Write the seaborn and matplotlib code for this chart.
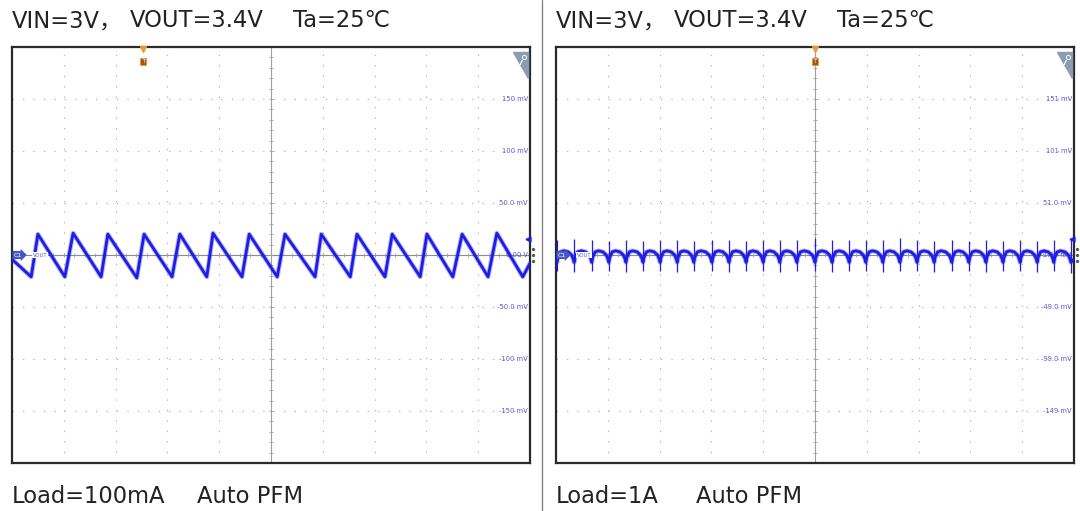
import numpy as np
import pandas as pd
import matplotlib.pyplot as plt
import matplotlib.transforms as mtransforms
from matplotlib.lines import Line2D
import seaborn as sns

# ---- data (x in divisions, y in mV) ----
left_peak_t = [0.50, 1.18, 1.85, 2.55, 3.24, 3.88, 4.58, 5.27, 5.97, 6.66, 7.34, 8.01, 8.69, 9.36]
left_peak_v = [20, 21, 20, 20, 20, 21, 20, 20, 20, 20, 20, 20, 20, 21]
left_trough_t = [0.37, 1.02, 1.72, 2.41, 3.09, 3.76, 4.44, 5.12, 5.85, 6.53, 7.20, 7.88, 8.51, 9.19, 9.86]
left_trough_v = [-21, -21, -21, -22, -21, -21, -21, -21, -21, -21, -21, -21, -21, -21, -21]
left_start = (0.02, -5)
left_end = (10.0, -8)

right_spike_t = [0.02, 0.35, 0.69, 1.02, 1.35, 1.68, 2.01, 2.34, 2.66, 3.01, 3.34, 3.67, 4.00,
                 4.32, 4.65, 5.00, 5.33, 5.66, 5.98, 6.31, 6.64, 6.97, 7.30, 7.64, 7.97, 8.30,
                 8.63, 8.96, 9.29, 9.61, 9.94]
right_spike_hi = [15, 16, 15, 14, 15, 14, 15, 15, 14, 15, 15, 14, 15, 15, 15, 17, 15, 15, 15,
                  15, 17, 15, 14, 15, 14, 15, 14, 15, 14, 15, 16]
right_spike_lo = [-14, -15, -14, -14, -15, -14, -14, -15, -14, -14, -15, -14, -14, -15, -14,
                  -14, -15, -14, -14, -15, -14, -14, -15, -14, -14, -15, -14, -14, -15, -14, -16]
# shape of one switching cycle between two spikes (fraction of period, mV)
cycle_frac = [0.0, 0.06, 0.2, 0.4, 0.65, 0.85, 0.95]
cycle_mv = [-6, -1, 4, 5, 4, 1, -3]

left_ticks = ["150 mV", "100 mV", "50.0 mV", "0.00 V", "-50.0 mV", "-100 mV", "-150 mV"]
left_tick_v = [150, 100, 50, 0, -50, -100, -150]
right_ticks = ["151 mV", "101 mV", "51.0 mV", "1.00 mV", "-49.0 mV", "-99.0 mV", "-149 mV"]
right_tick_v = [151, 101, 51, 1, -49, -99, -149]

# build traces
lt = [left_start[0]]
lv = [left_start[1]]
for i in range(len(left_trough_t)):
    lt.append(left_trough_t[i]); lv.append(left_trough_v[i])
    if i < len(left_peak_t):
        lt.append(left_peak_t[i]); lv.append(left_peak_v[i])
lt.append(left_end[0]); lv.append(left_end[1])
left_df = pd.DataFrame({"t": lt, "v": lv})

rt, rv = [], []
for k in range(len(right_spike_t) - 1):
    t0, t1 = right_spike_t[k], right_spike_t[k + 1]
    for f, m in zip(cycle_frac, cycle_mv):
        rt.append(t0 + f * (t1 - t0)); rv.append(m)
rt.append(right_spike_t[-1]); rv.append(cycle_mv[0])
rt.append(10.0); rv.append(-3)
right_df = pd.DataFrame({"t": rt, "v": rv})

sns.set_style("white")
plt.rcParams['font.family'] = ['DejaVu Sans', 'Noto Sans CJK SC']

W, H = 1080, 511
fig = plt.figure(figsize=(W / 100, H / 100), dpi=100)
trace_c = "#1d1de6"
label_c = "#5a5ad8"


def px(x, y):
    return x / W, 1 - y / H


def scope(ax, df, ylo, yhi, center, ticks, tick_v, trig_x):
    ax.set_xlim(0, 10)
    ax.set_ylim(ylo, yhi)
    ax.set_xticks(range(0, 11))
    ax.set_yticks(np.linspace(ylo, yhi, 9))
    ax.tick_params(length=0, labelbottom=False, labelleft=False)
    ax.grid(True, color="#b5b5b5", linestyle=(0, (1.2, 8.2)), linewidth=0.8)
    for s in ax.spines.values():
        s.set_color("#2a2a2a")
        s.set_linewidth(1.6)
    ax.axhline(center, color="#8c8c8c", lw=0.8, zorder=1)
    ax.axvline(5, color="#a0a0a0", lw=0.8, zorder=1)
    # small ticks on the crosshair
    mx = np.arange(0.2, 10, 0.2)
    ax.plot(mx, np.full_like(mx, center), ls="none", marker="|", ms=2.5, color="#a0a0a0", mew=0.6)
    my = np.arange(ylo + 10, yhi, 10)
    ax.plot(np.full_like(my, 5.0), my, ls="none", marker="_", ms=2.5, color="#a0a0a0", mew=0.6)
    trans = mtransforms.blended_transform_factory(ax.transAxes, ax.transData)
    for lab, v in zip(ticks, tick_v):
        ax.text(0.996, v, lab, transform=trans, ha="right", va="center", fontsize=4.9,
                color=label_c, family="DejaVu Sans", zorder=2)
    sns.lineplot(data=df, x="t", y="v", ax=ax, color=trace_c, linewidth=3.4, alpha=0.35,
                 estimator=None, sort=False, zorder=4)
    sns.lineplot(data=df, x="t", y="v", ax=ax, color=trace_c, linewidth=2.0,
                 estimator=None, sort=False, zorder=5)
    # channel badge + label
    ax.text(0.004, center, "C1", transform=trans, ha="left", va="center", fontsize=4.5,
            color="white", family="DejaVu Sans", zorder=7,
            bbox=dict(boxstyle="rarrow,pad=0.25", fc="#4756c8", ec="none"))
    ax.text(0.04, center, "VOUT", transform=trans, ha="left", va="center", fontsize=3.8,
            color=label_c, family="DejaVu Sans", zorder=7,
            bbox=dict(boxstyle="square,pad=0.1", fc="white", ec="none"))
    # trigger marker at top
    ttr = mtransforms.blended_transform_factory(ax.transData, ax.transAxes)
    ax.plot([trig_x], [0.995], marker="v", ms=4, color="#ee9a35", transform=ttr, clip_on=False, zorder=8)
    ax.text(trig_x, 0.965, "T", transform=ttr, ha="center", va="center", fontsize=3.6,
            color="white", family="DejaVu Sans", zorder=8,
            bbox=dict(boxstyle="square,pad=0.25", fc="#9a5a1c", ec="#ee9a35", lw=0.6))
    # zoom corner triangle with a small magnifier shape
    ax.fill([0.967, 0.996, 0.996], [0.988, 0.988, 0.925], transform=ax.transAxes,
            color="#8d9bb0", zorder=6, clip_on=False)
    ax.plot([0.988], [0.975], marker="o", ms=3, mfc="none", mec="white", mew=0.7,
            transform=ax.transAxes, zorder=7)
    ax.plot([0.981, 0.985], [0.957, 0.968], color="white", lw=0.8, transform=ax.transAxes, zorder=7)
    # trigger level arrow on the right edge
    ax.plot([9.97], [center + 15], marker="<", ms=3.5, color=trace_c, zorder=8, clip_on=False)
    # handle dots outside the right border
    ax.plot([1.006] * 3, [center - 6, center, center + 6], transform=trans, ls="none",
            marker="o", ms=1.3, color="#555555", clip_on=False)


ax1 = fig.add_axes([12 / W, (H - 463) / H, 518 / W, 416 / H])
scope(ax1, left_df, -200, 200, 0, left_ticks, left_tick_v, 2.53)

ax2 = fig.add_axes([556 / W, (H - 463) / H, 518 / W, 416 / H])
scope(ax2, right_df, -199, 201, 1, right_ticks, right_tick_v, 5.0)
ax2.vlines(right_spike_t, right_spike_lo, right_spike_hi, color=trace_c, lw=0.9, zorder=5)

# separator between the two screenshots
fig.add_artist(Line2D([541.5 / W, 541.5 / W], [0, 1], color="#7a7a7a", lw=0.9))

txt = dict(fontsize=16.3, color="#222222", va="baseline", ha="left")
for x0 in (12, 556):
    fig.text(*px(x0, 27), "VIN=3V，", **txt)
    fig.text(*px(x0 + 118, 27), "VOUT=3.4V", **txt)
    fig.text(*px(x0 + 281, 27), "Ta=25℃", **txt)

fig.text(*px(12, 503), "Load=100mA", **txt)
fig.text(*px(197, 503), "Auto PFM", **txt)
fig.text(*px(556, 503), "Load=1A", **txt)
fig.text(*px(696, 503), "Auto PFM", **txt)

fig.savefig("out.png", dpi=100)
